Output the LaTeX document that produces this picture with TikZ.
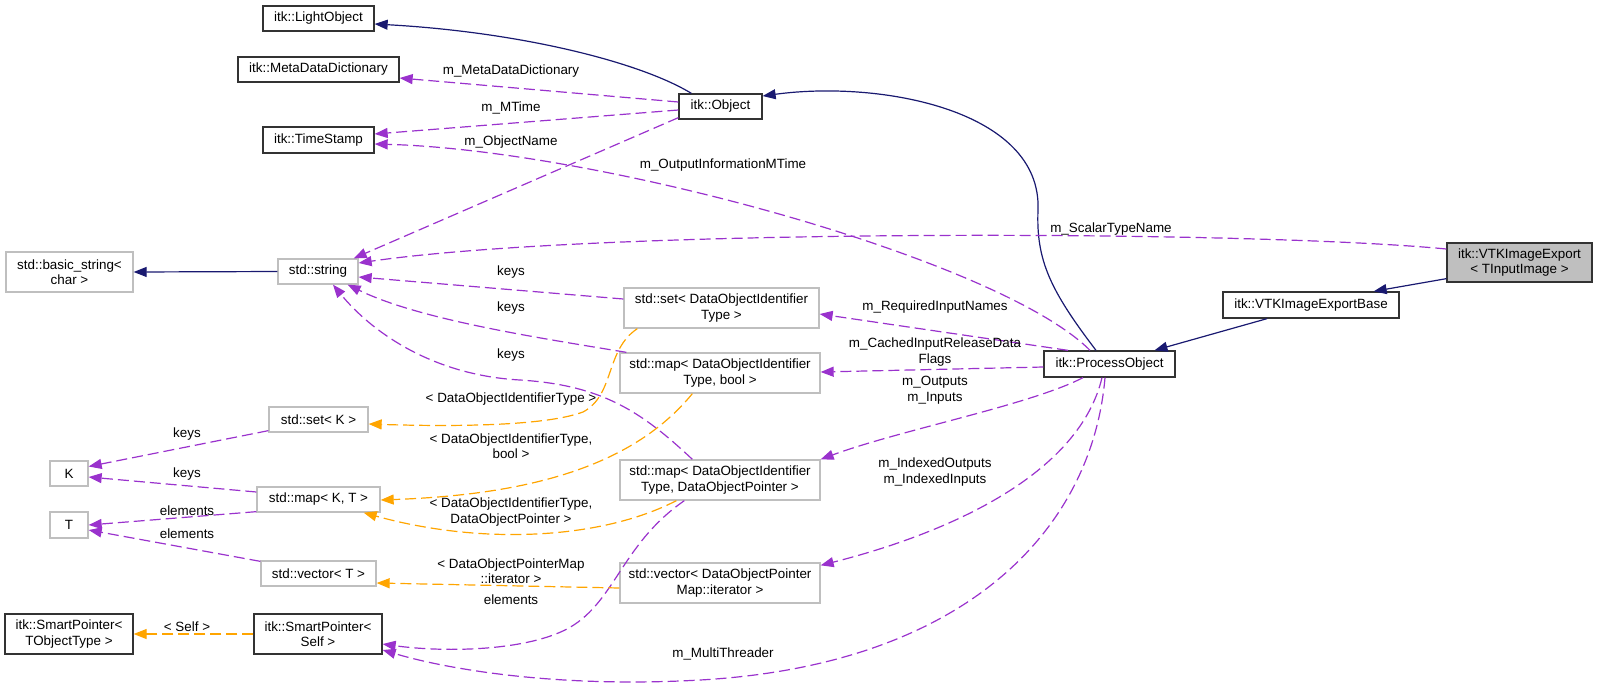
\documentclass[tikz,border=0pt]{standalone}
\usepackage{fontspec}
\setmainfont{Liberation Sans}
\usetikzlibrary{arrows.meta,calc}
\definecolor{navy}{HTML}{191970}
\definecolor{orchid}{HTML}{9A32CD}
\definecolor{orng}{HTML}{FFA500}
\definecolor{gborder}{HTML}{BFBFBF}
\definecolor{gfill}{HTML}{BFBFBF}
\begin{document}
\begin{tikzpicture}[x=1pt,y=-1pt,
  every node/.style={font=\fontsize{13.4}{15.5}\selectfont, inner sep=0pt, align=center},
  bbox/.style={draw=black!80, line width=1.3pt},
  gbox/.style={draw=gborder, line width=1.3pt},
  tip/.style={-{Triangle[length=13pt,width=10pt]}},
  inh/.style={draw=navy, line width=1.2pt, tip},
  use/.style={draw=orchid, line width=1.2pt, dash pattern=on 11pt off 5pt, tip},
  tmpl/.style={draw=orng, line width=1.2pt, dash pattern=on 11pt off 5pt, tip}
]
\useasboundingbox (0,0) rectangle (1597,686);

% nodes
\node[bbox, minimum width=111pt, minimum height=25pt] (LO) at (318.5,18.5) {itk::LightObject};
\node[bbox, minimum width=161pt, minimum height=25pt] (MDD) at (318.5,69.5) {itk::MetaDataDictionary};
\node[bbox, minimum width=111pt, minimum height=26pt] (TS) at (318.5,140) {itk::TimeStamp};
\node[bbox, minimum width=83pt, minimum height=25pt] (Obj) at (720.5,106.5) {itk::Object};
\node[bbox, fill=gfill, minimum width=145pt, minimum height=39pt] (VTK) at (1519.5,262.5) {itk::VTKImageExport\\< TInputImage >};
\node[bbox, minimum width=176pt, minimum height=26pt] (VTKB) at (1311,305) {itk::VTKImageExportBase};
\node[gbox, minimum width=127pt, minimum height=40pt] (BS) at (69.5,272) {std::basic\_string<\\char >};
\node[gbox, minimum width=80pt, minimum height=25pt] (Str) at (318,271.5) {std::string};
\node[gbox, minimum width=99pt, minimum height=25pt] (SetK) at (318.5,419.5) {std::set< K >};
\node[gbox, minimum width=195pt, minimum height=40pt] (SetD) at (721.5,308) {std::set< DataObjectIdentifier\\Type >};
\node[gbox, minimum width=200pt, minimum height=40pt] (MapDB) at (720,373) {std::map< DataObjectIdentifier\\Type, bool >};
\node[bbox, minimum width=131pt, minimum height=26pt] (PO) at (1109.5,364) {itk::ProcessObject};
\node[gbox, minimum width=38pt, minimum height=25pt] (K) at (69,473.5) {K};
\node[gbox, minimum width=38pt, minimum height=26pt] (T) at (69,525) {T};
\node[gbox, minimum width=123pt, minimum height=25pt] (MapKT) at (318.5,499.5) {std::map< K, T >};
\node[gbox, minimum width=115pt, minimum height=25pt] (VecT) at (318.5,573.5) {std::vector< T >};
\node[bbox, minimum width=128pt, minimum height=40pt] (SPT) at (69,634) {itk::SmartPointer<\\TObjectType >};
\node[bbox, minimum width=128pt, minimum height=40pt] (SPS) at (318,634) {itk::SmartPointer<\\Self >};
\node[gbox, minimum width=200pt, minimum height=40pt] (MapDP) at (720,480) {std::map< DataObjectIdentifier\\Type, DataObjectPointer >};
\node[gbox, minimum width=200pt, minimum height=40pt] (VecDP) at (720,583) {std::vector< DataObjectPointer\\Map::iterator >};

% inheritance
\draw[inh] ($(Obj.north west)+(13,0)$) .. controls (640,62) and (520,32) .. ($(LO.east)+(0,5.5)$);
\draw[inh] ($(PO.north)+(-13.5,0)$) .. controls (1050,290) and (1036,260) .. (1038,210) .. controls (1042,110) and (880,80) .. ($(Obj.east)+(0,-10.5)$);
\draw[inh] ($(VTKB.south)+(-44,0)$) -- ($(PO.north)+(45,0)$);
\draw[inh] ($(VTK.south west)+(0,-4)$) -- ($(VTKB.north east)+(-26,0)$);
\draw[inh] (Str.west) -- (BS.east);

% usage
\draw[use] ($(Obj.west)+(0,-4.5)$) -- ($(MDD.east)+(0,8.5)$);
\draw[use] ($(Obj.west)+(0,3.5)$) -- ($(TS.east)+(0,-6)$);
\draw[use] ($(PO.north)+(-19.5,0)$) .. controls (1000,260) and (600,150) .. ($(TS.east)+(0,4)$);
\draw[use] ($(Obj.south west)+(0,-2)$) -- ($(Str.north east)+(-5,0)$);
\draw[use] ($(VTK.west)+(0,-13.5)$) .. controls (1250,230) and (600,228) .. ($(Str.east)+(0,-8.5)$);
\draw[use] ($(SetD.west)+(0,-9)$) -- ($(Str.east)+(0,5.5)$);
\draw[use] ($(MapDB.north west)+(7,0)$) .. controls (540,338) and (420,320) .. ($(Str.south east)+(-11,0)$);
\draw[use] ($(MapDP.north west)+(73,0)$) .. controls (640,410) and (600,385) .. (520,380) .. controls (430,375) and (370,330) .. ($(Str.south)+(15,0)$);
\draw[use] ($(PO.north)+(-41.5,0)$) -- ($(SetD.east)+(0,6)$);
\draw[use] ($(PO.west)+(0,3)$) -- ($(MapDB.east)+(0,-1)$);
\draw[use] ($(PO.south)+(-26.5,0)$) .. controls (1030,405) and (900,430) .. (MapDP.north east);
\draw[use] ($(PO.south)+(-7.5,0)$) .. controls (1080,470) and (960,530) .. ($(VecDP.north east)+(0,3)$);
\draw[use] ($(PO.south)+(-4.5,0)$) .. controls (1092,530) and (965,665) .. (700,680) .. controls (560,688) and (450,670) .. ($(SPS.east)+(0,16)$);
\draw[use] ($(MapDP.south west)+(65,0)$) .. controls (620,545) and (615,605) .. (565,630) .. controls (520,652) and (440,652) .. ($(SPS.east)+(0,10)$);
\draw[use] ($(SetK.south west)+(0,-2)$) -- ($(K.east)+(0,-7)$);
\draw[use] ($(MapKT.west)+(0,-7.5)$) -- ($(K.east)+(0,3.5)$);
\draw[use] ($(MapKT.south west)+(0,-1)$) -- (T.east);
\draw[use] ($(VecT.north west)+(0,1)$) -- ($(T.east)+(0,5)$);

% template instances
\draw[tmpl] ($(SetD.south west)+(14,0)$) .. controls (605,350) and (615,395) .. (583,412) .. controls (540,428) and (430,426) .. ($(SetK.east)+(0,4.5)$);
\draw[tmpl] ($(MapDB.south west)+(73,0)$) .. controls (630,470) and (520,495) .. ($(MapKT.east)+(0,0.5)$);
\draw[tmpl] ($(MapDP.south west)+(57,0)$) .. controls (600,540) and (480,545) .. ($(MapKT.south east)+(-17,0)$);
\draw[tmpl] ($(VecDP.west)+(0,5)$) -- ($(VecT.east)+(0,9.5)$);
\draw[tmpl] (SPS.west) -- (SPT.east);

% labels
\node (l1) at (511,71) {m\_MetaDataDictionary};
\node (l2) at (511,108) {m\_MTime};
\node (l3) at (511,142) {m\_ObjectName};
\node (l4) at (723,165) {m\_OutputInformationMTime};
\node (l5) at (1111,229) {m\_ScalarTypeName};
\node (l6) at (511,272) {keys};
\node (l7) at (511,308) {keys};
\node (l8) at (511,355) {keys};
\node (l9) at (511,399) {< DataObjectIdentifierType >};
\node (l10) at (511,446) {< DataObjectIdentifierType,\\bool >};
\node (l11) at (511,512) {< DataObjectIdentifierType,\\DataObjectPointer >};
\node (l12) at (511,571) {< DataObjectPointerMap\\::iterator >};
\node (l13) at (511,600) {elements};
\node (l14) at (723,654) {m\_MultiThreader};
\node (l15) at (935,307) {m\_RequiredInputNames};
\node (l16) at (935,352) {m\_CachedInputReleaseData\\Flags};
\node (l17) at (935,390) {m\_Outputs\\m\_Inputs};
\node (l18) at (935,472) {m\_IndexedOutputs\\m\_IndexedInputs};
\node (l19) at (187,434) {keys};
\node (l20) at (187,474) {keys};
\node (l21) at (187,511) {elements};
\node (l22) at (187,534) {elements};
\node (l23) at (187,627) {< Self >};
\end{tikzpicture}
\end{document}
